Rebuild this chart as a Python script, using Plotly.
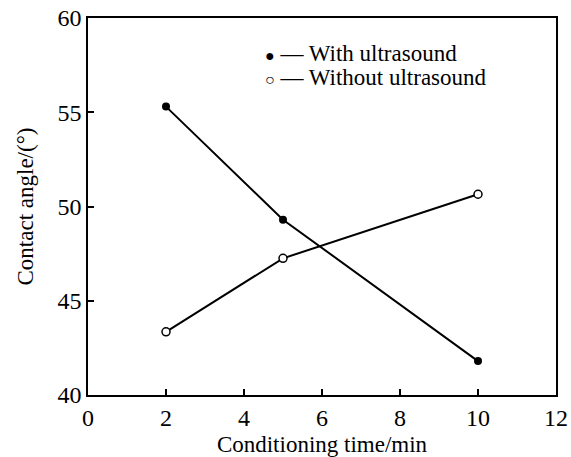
import plotly.graph_objects as go

time_min = [2, 5, 10]
with_ultrasound = [55.3, 49.3, 41.8]
without_ultrasound = [43.35, 47.25, 50.65]
x_ticks = [0, 2, 4, 6, 8, 10, 12]
y_ticks = [40, 45, 50, 55, 60]

FONT = "Liberation Serif, Times New Roman, serif"

fig = go.Figure()
fig.add_trace(go.Scatter(
    x=time_min, y=with_ultrasound, mode="lines+markers", name="With ultrasound",
    line=dict(color="black", width=2),
    marker=dict(symbol="circle", size=8, color="black"),
))
fig.add_trace(go.Scatter(
    x=time_min, y=without_ultrasound, mode="lines+markers", name="Without ultrasound",
    line=dict(color="black", width=2),
    marker=dict(symbol="circle", size=8, color="white", line=dict(color="black", width=1.5)),
))

axis_common = dict(
    showgrid=False, zeroline=False, showline=True, linecolor="black", linewidth=1.5,
    mirror=True, ticks="inside", ticklen=6, tickwidth=1.5, tickcolor="black",
    automargin=False,
    tickfont=dict(family=FONT, size=24, color="black"),
)
fig.update_xaxes(range=[0, 12], tickvals=x_ticks, **axis_common,
                 title=dict(text="Conditioning time/min", font=dict(family=FONT, size=23, color="black"), standoff=7))
fig.update_yaxes(range=[40, 60], tickvals=y_ticks, **axis_common,
                 title=dict(text="Contact angle/(°)", font=dict(family=FONT, size=23, color="black"), standoff=17))

fig.add_annotation(xref="paper", yref="paper", x=0.373, y=0.907, xanchor="left", yanchor="middle",
                   showarrow=False, align="left",
                   text="<span style='font-size:16px'>●</span> — With ultrasound",
                   font=dict(family=FONT, size=23, color="black"))
fig.add_annotation(xref="paper", yref="paper", x=0.373, y=0.841, xanchor="left", yanchor="middle",
                   showarrow=False, align="left",
                   text="<span style='font-size:16px'>○</span> — Without ultrasound",
                   font=dict(family=FONT, size=23, color="black"))

fig.update_layout(
    width=571, height=457,
    margin=dict(l=88, r=15, t=18, b=62, autoexpand=False),
    paper_bgcolor="white", plot_bgcolor="white",
    showlegend=False,
    font=dict(family=FONT, color="black"),
)

fig.write_html("out.html")
